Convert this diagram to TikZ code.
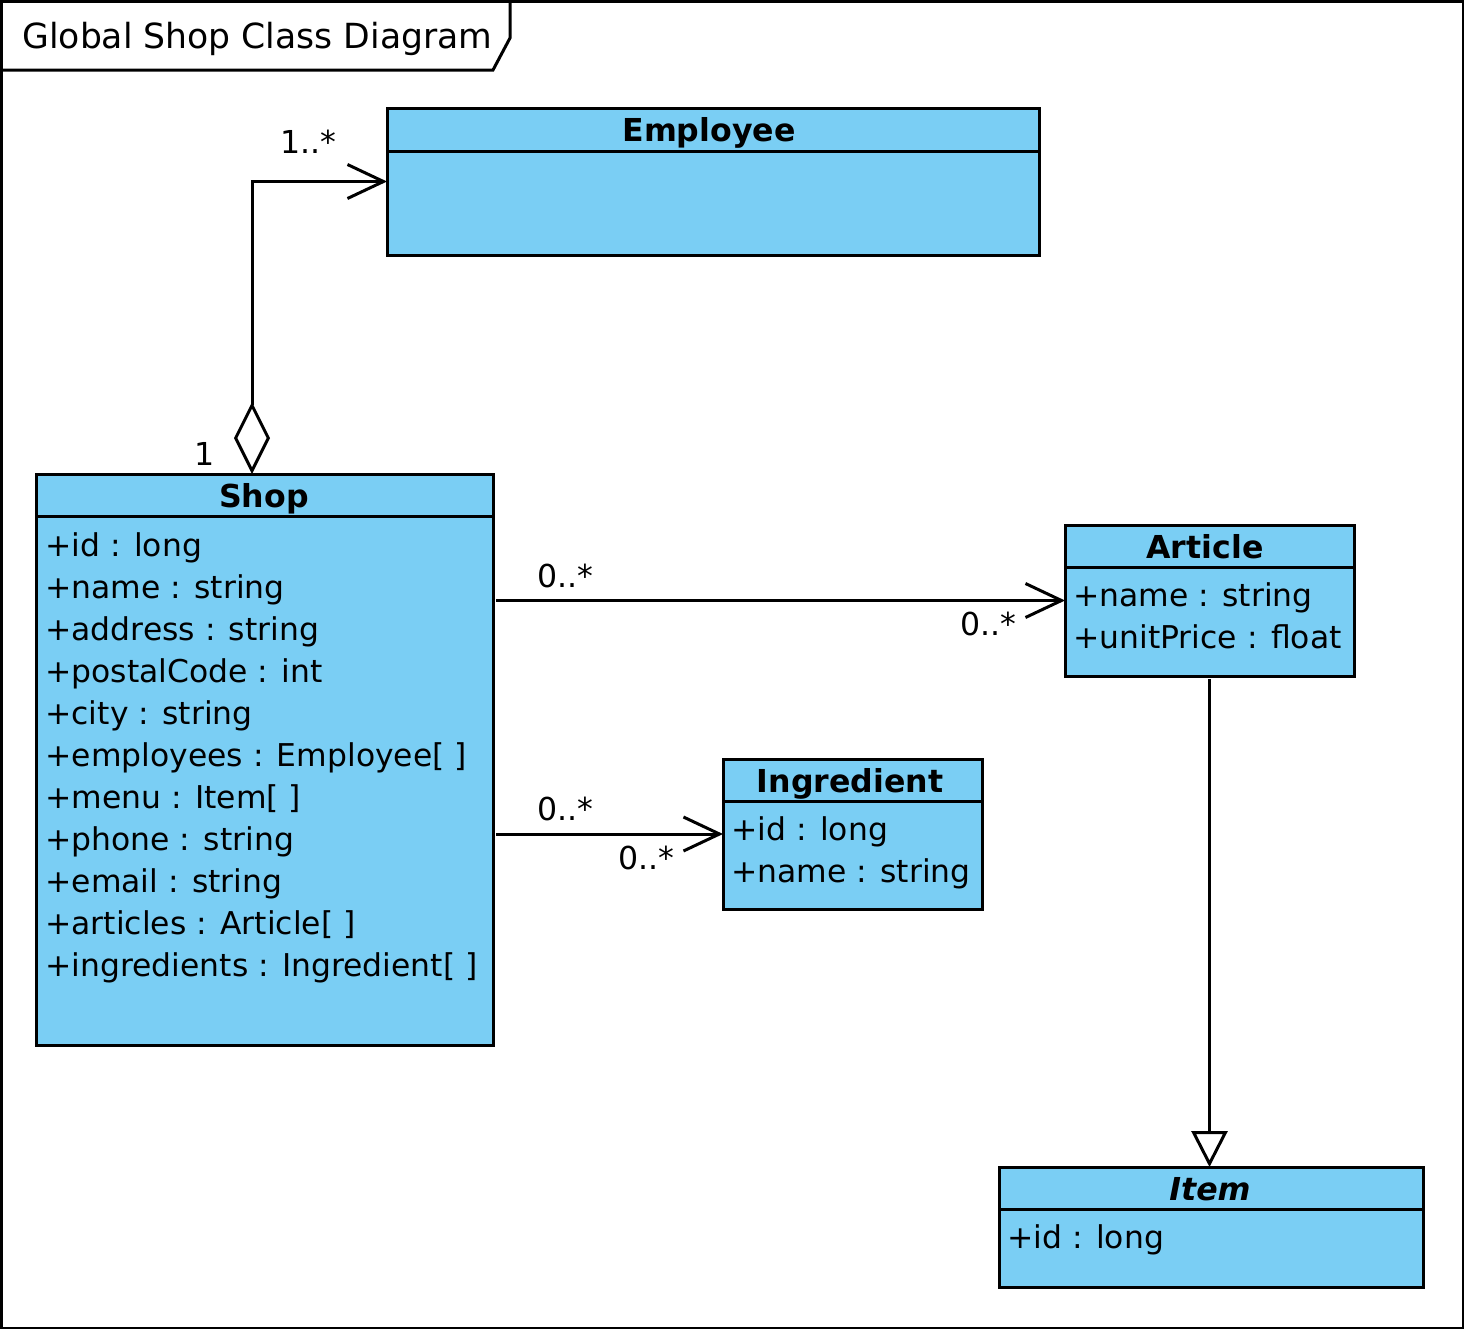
\documentclass[tikz,border=0pt]{standalone}
\usepackage{fontspec}
\setmainfont{DejaVu Sans}
\usetikzlibrary{arrows.meta,calc}
\definecolor{clsfill}{RGB}{122,206,244}
\begin{document}
\begin{tikzpicture}[x=0.5pt,y=-0.5pt,
  cls/.style={draw,line width=1.5pt,fill=clsfill,rectangle,inner sep=0pt,outer sep=0pt,anchor=north west},
  hdr/.style={font=\fontsize{15.8}{18}\selectfont\bfseries,anchor=base,inner sep=0pt},
  attr/.style={font=\fontsize{15.7}{18}\selectfont,anchor=base west,inner sep=0pt},
  mult/.style={font=\fontsize{15.8}{18}\selectfont,anchor=base,inner sep=0pt},
  conn/.style={line width=1.5pt},
  assoc/.style={conn,-{Straight Barb[length=18pt,width=17pt,line width=1.5pt]}},
  agg/.style={conn,{Diamond[open,length=36pt,width=18pt,line width=1.5pt]}-{Straight Barb[length=18pt,width=17pt,line width=1.5pt]}},
  gen/.style={conn,-{Triangle[open,length=18pt,width=18pt,line width=1.5pt]}}]
\useasboundingbox (0,0) rectangle (1464,1329);
% frame
\draw[line width=1.5pt] (1,1) rectangle (1463,1328);
\draw[line width=1.5pt] (1,70) -- (493,70) -- (510,38) -- (510,1);
\node[anchor=base west,inner sep=0pt,font=\fontsize{17.3}{20}\selectfont] (title) at (22,48) {Global Shop Class Diagram};

% Employee
\node[cls,minimum width=326pt,minimum height=73.5pt] (emp) at (387,108) {};
\draw[line width=1.5pt] (emp.west |- 0,151) -- (emp.east |- 0,151);
\node[hdr] (empname) at (709,141) {Employee};

% Shop
\node[cls,minimum width=228.5pt,minimum height=285.5pt] (shop) at (36,474) {};
\draw[line width=1.5pt] (shop.west |- 0,516) -- (shop.east |- 0,516);
\node[hdr] (shopname) at (264,507) {Shop};
\node[attr] (s1) at (45,556) {+id : long};
\node[attr] (s2) at (45,598) {+name : string};
\node[attr] (s3) at (45,640) {+address : string};
\node[attr] (s4) at (45,682) {+postalCode : int};
\node[attr] (s5) at (45,724) {+city : string};
\node[attr] (s6) at (45,766) {+employees : Employee[ ]};
\node[attr] (s7) at (45,808) {+menu : Item[ ]};
\node[attr] (s8) at (45,850) {+phone : string};
\node[attr] (s9) at (45,892) {+email : string};
\node[attr] (s10) at (45,934) {+articles : Article[ ]};
\node[attr] (s11) at (45,976) {+ingredients : Ingredient[ ]};

% Article
\node[cls,minimum width=144.5pt,minimum height=75.5pt] (art) at (1065,525) {};
\draw[line width=1.5pt] (art.west |- 0,567) -- (art.east |- 0,567);
\node[hdr] (artname) at (1205,558) {Article};
\node[attr] (a1) at (1073,606) {+name : string};
\node[attr] (a2) at (1073,648) {+unitPrice : float};

% Ingredient
\node[cls,minimum width=129.5pt,minimum height=75pt] (ing) at (723,759) {};
\draw[line width=1.5pt] (ing.west |- 0,801) -- (ing.east |- 0,801);
\node[hdr] (ingname) at (850,792) {Ingredient};
\node[attr] (i1) at (731,840) {+id : long};
\node[attr] (i2) at (731,882) {+name : string};

% Item
\node[cls,minimum width=212pt,minimum height=60pt] (item) at (999,1167) {};
\draw[line width=1.5pt] (item.west |- 0,1209) -- (item.east |- 0,1209);
\node[hdr,font=\fontsize{15.8}{18}\selectfont\bfseries\itshape] (itemname) at (1210,1200) {Item};
\node[attr] (t1) at (1007,1248) {+id : long};

% connectors
\coordinate (aggstart) at (252,474);
\draw[agg] (aggstart) |- (emp.west);
\node[mult] (m1) at (308,153) {1..*};
\node[mult] (m2) at (205,465) {1};

\draw[assoc] ($(shop.east |- art.west)+(3,0)$) -- (art.west);
\node[mult] (m3) at (565,587) {0..*};
\node[mult] (m4) at (988,635) {0..*};

\draw[assoc] ($(shop.east |- ing.west)+(3,0)$) -- (ing.west);
\node[mult] (m5) at (565,820) {0..*};
\node[mult] (m6) at (646,869) {0..*};

\draw[gen] ($(art.south)+(0,3)$) -- (art.south |- item.north);
\end{tikzpicture}
\end{document}
